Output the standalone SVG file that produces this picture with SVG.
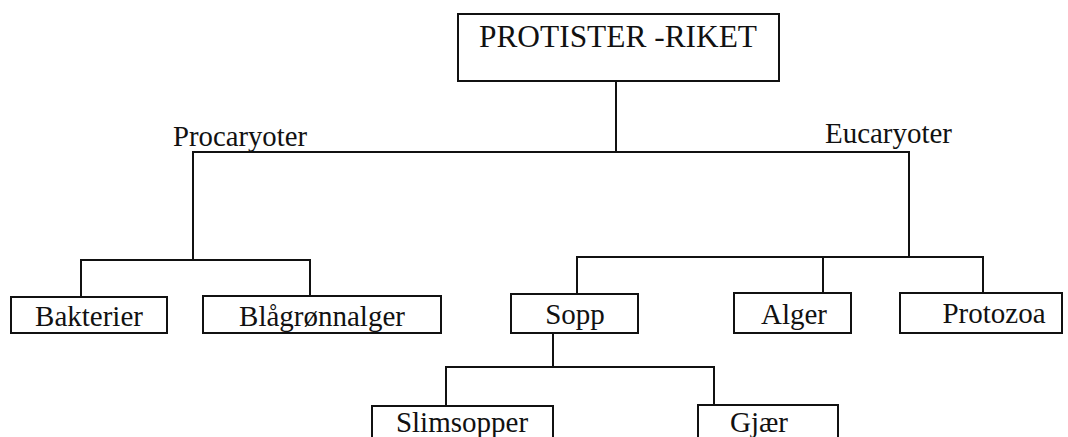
<svg xmlns="http://www.w3.org/2000/svg" width="1068" height="437" viewBox="0 0 1068 437">
<style>
.box{fill:#fff;stroke:#111;stroke-width:2}
.ln{fill:none;stroke:#111;stroke-width:2;stroke-linecap:square}
.t{font-family:'Liberation Serif','Times New Roman',Times,serif;font-size:29px;fill:#111}
.c{text-anchor:middle}
</style>
<rect width="1068" height="437" fill="#fff"/>
<g id="connectors">
<path class="ln" d="M616,81V152M193,152H909M193,152V260M81,260H310M81,260V297M310,260V296"/>
<path class="ln" d="M909,152V257M577,257H983M577,257V294M823,257V293M983,257V293"/>
<path class="ln" d="M553,333V367M446,367H714M446,367V406M714,367V405"/>
</g>
<g id="root"><rect class="box" x="458" y="14" width="321" height="67"/><text class="t c" x="618" y="47" font-family="Liberation Serif, serif" style="font-size:32px" textLength="278" lengthAdjust="spacingAndGlyphs">PROTISTER -RIKET</text></g>
<g id="procaryoter"><text class="t" x="173" y="146" font-family="Liberation Serif, serif" textLength="134" lengthAdjust="spacingAndGlyphs">Procaryoter</text></g>
<g id="eucaryoter"><text class="t" x="825" y="143" font-family="Liberation Serif, serif" textLength="127" lengthAdjust="spacingAndGlyphs">Eucaryoter</text></g>
<g id="bakterier"><rect class="box" x="11" y="297" width="156" height="36"/><text class="t c" x="89" y="326" font-family="Liberation Serif, serif">Bakterier</text></g>
<g id="blagronnalger"><rect class="box" x="203" y="296" width="238" height="37"/><text class="t c" x="322" y="326" font-family="Liberation Serif, serif">Blågrønnalger</text></g>
<g id="sopp"><rect class="box" x="511" y="294" width="127" height="39"/><text class="t c" x="575" y="324" font-family="Liberation Serif, serif">Sopp</text></g>
<g id="alger"><rect class="box" x="734" y="293" width="117" height="40"/><text class="t c" x="794" y="324" font-family="Liberation Serif, serif">Alger</text></g>
<g id="protozoa"><rect class="box" x="900" y="293" width="162" height="40"/><text class="t c" x="994" y="323" font-family="Liberation Serif, serif">Protozoa</text></g>
<g id="slimsopper"><rect class="box" x="372" y="406" width="181" height="40"/><text class="t c" x="462" y="432" font-family="Liberation Serif, serif">Slimsopper</text></g>
<g id="gjaer"><rect class="box" x="698" y="405" width="140" height="41"/><text class="t c" x="759" y="432" font-family="Liberation Serif, serif">Gjær</text></g>
</svg>
